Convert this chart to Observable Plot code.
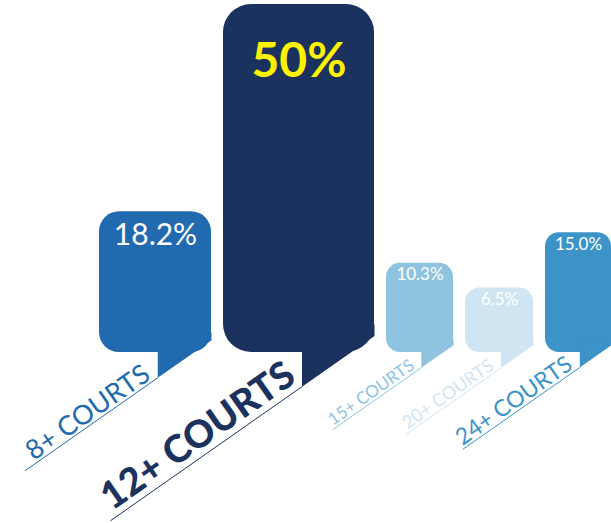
<!DOCTYPE html>
<html><head><meta charset="utf-8">
<script src="https://cdn.jsdelivr.net/npm/d3@7"></script>
<script src="https://cdn.jsdelivr.net/npm/@observablehq/plot@0.6"></script>
<style>
html,body{margin:0;padding:0;background:#fff;}
#chart svg{display:block;}
</style>
</head><body><div id="chart"></div>
<script>
// ---- data ----
const categories = ["8+ COURTS", "12+ COURTS", "15+ COURTS", "20+ COURTS", "24+ COURTS"];
const shares = [18.2, 50, 10.3, 6.5, 15.0];
const shareLabels = ["18.2%", "50%", "10.3%", "6.5%", "15.0%"];

// ---- style / layout ----
const colors = ["#216aaf", "#1c325e", "#8ec4df", "#cfe6f2", "#3b93c7"];
const widthUnits = [112, 151, 67, 68, 66];
const gapUnits = 12;
const cornerR = [20, 28, 14, 14, 14];
const valueStyle = [
  {size: 30, weight: 400, fill: "#ffffff", dy: 12, ls: 1},
  {size: 48, weight: 700, fill: "#fff200", dy: 38, ls: 3},
  {size: 17, weight: 400, fill: "#ffffff", dy: 5, ls: 0.5},
  {size: 17, weight: 400, fill: "#ffffff", dy: 5, ls: 0.5},
  {size: 17, weight: 400, fill: "#ffffff", dy: 5, ls: 0.5}
];
const catStyle = [
  {size: 27, weight: 400, ls: 3.2, len: 162, back: 5, gap: 3},
  {size: 38, weight: 900, ls: 2.6, len: 234, back: 0, gap: 7},
  {size: 17, weight: 400, ls: 1, len: 108, back: 5, gap: 3},
  {size: 18, weight: 400, ls: 1.2, len: 116, back: 5, gap: 3},
  {size: 23, weight: 400, ls: 1.5, len: 143, back: 5, gap: 3}
];
const W = 611, H = 523;
const pad = 22;          // extra bar depth below the zero line (label room)
const angle = 35 * Math.PI / 180;
const font = "Lato, 'Open Sans', sans-serif";

// layout units for x
const starts = [];
let acc = 0;
widthUnits.forEach((w, i) => { starts.push(acc); acc += w + (i < widthUnits.length - 1 ? gapUnits : 0); });
const xOpts = {type: "linear", domain: [0, acc], range: [99, 611]};
const yOpts = {type: "linear", domain: [0, 50], range: [330, 4]};
const xs = Plot.scale({x: xOpts});
const ys = Plot.scale({y: yOpts});

const bars = categories.map((c, i) => ({
  cat: c, share: shares[i], label: shareLabels[i],
  x1: starts[i], x2: starts[i] + widthUnits[i], xc: starts[i] + widthUnits[i] / 2
}));

const marks = [];
const cosA = Math.cos(angle), sinA = Math.sin(angle);
const u = [-cosA, sinA];      // down-left along label line
const up = [-sinA, -cosA];    // "up" in rotated text frame

bars.forEach((b, i) => {
  const r = cornerR[i];
  // rounded bar
  marks.push(Plot.rect([b], {x1: "x1", x2: "x2", y1: () => 0, y2: "share",
    fill: colors[i], rx: r, ry: r, insetBottom: -pad}));
  // tail (derived from bar geometry)
  const L = xs.apply(b.x1), R = xs.apply(b.x2), B = ys.apply(0) + pad;
  const xt = L + 0.52 * (R - L);
  const yr = B - 0.11 * (R - L);
  const yt = yr + (R - xt) * Math.tan(angle);
  const poly = [[xt, B - r], [xt, yt], [R, yr], [R, B - r]]
    .map(([px, py]) => ({x: xs.invert(px), y: ys.invert(py)}));
  marks.push(Plot.line(poly, {x: "x", y: "y", fill: colors[i], stroke: "none"}));
  // underline
  const st = catStyle[i];
  const end = [xt + st.len * u[0], yt + st.len * u[1]];
  marks.push(Plot.link([b], {
    x1: () => xs.invert(xt), y1: () => ys.invert(yt),
    x2: () => xs.invert(end[0]), y2: () => ys.invert(end[1]),
    stroke: colors[i], strokeWidth: 1
  }));
  // category label
  const gap = st.gap + 0.32 * st.size;
  const ax = xt + st.back * u[0] + gap * up[0];
  const ay = yt + st.back * u[1] + gap * up[1];
  marks.push(Plot.text([b], {
    x: () => xs.invert(ax), y: () => ys.invert(ay), text: "cat",
    rotate: -35, textAnchor: "end", lineAnchor: "middle",
    fill: colors[i], fontSize: st.size, fontWeight: st.weight, fontFamily: font,
    ariaLabel: "cat-" + i
  }));
  // value label
  const vs = valueStyle[i];
  marks.push(Plot.text([b], {
    x: "xc", y: "share", text: "label", lineAnchor: "top", dy: vs.dy,
    fill: vs.fill, fontSize: vs.size, fontWeight: vs.weight, fontFamily: font,
    ariaLabel: "val-" + i
  }));
});

const svg = Plot.plot({
  width: W, height: H,
  marginTop: 0, marginBottom: 0, marginLeft: 0, marginRight: 0,
  x: {...xOpts, axis: null},
  y: {...yOpts, axis: null},
  style: {background: "#ffffff", fontFamily: font},
  marks
});
catStyle.forEach((st, i) => {
  d3.select(svg).selectAll(`g[aria-label="cat-${i}"] text`).attr("letter-spacing", st.ls);
});
valueStyle.forEach((vs, i) => {
  d3.select(svg).selectAll(`g[aria-label="val-${i}"] text`).attr("letter-spacing", vs.ls);
});
document.getElementById("chart").appendChild(svg);
</script>
</body></html>
